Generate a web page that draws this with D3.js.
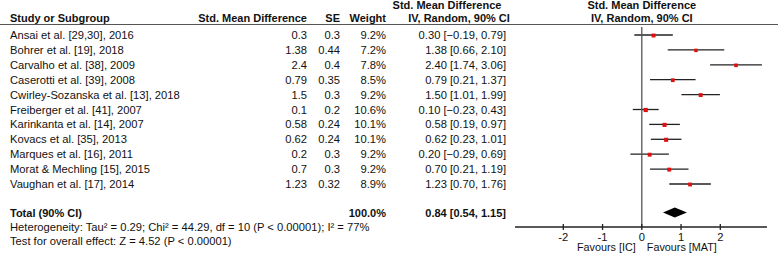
<!DOCTYPE html>
<html>
<head>
<meta charset="utf-8">
<script src="https://cdn.jsdelivr.net/npm/d3@7"></script>
<style>
  body { margin: 0; background: #fff; }
  text { font-family: "Liberation Sans", Arial, sans-serif; font-size: 11.2px; fill: #111; }
  .b { font-weight: bold; font-size: 11px; }
  .fav { font-size: 10.8px; }
</style>
</head>
<body>
<div id="chart"></div>
<script>
const studies = ["Ansai et al. [29,30], 2016", "Bohrer et al. [19], 2018", "Carvalho et al. [38], 2009",
  "Caserotti et al. [39], 2008", "Cwirley-Sozanska et al. [13], 2018", "Freiberger et al. [41], 2007",
  "Karinkanta et al. [14], 2007", "Kovacs et al. [35], 2013", "Marques et al. [16], 2011",
  "Morat & Mechling [15], 2015", "Vaughan et al. [17], 2014"];
const smd = ["0.3", "1.38", "2.4", "0.79", "1.5", "0.1", "0.58", "0.62", "0.2", "0.7", "1.23"];
const se = ["0.3", "0.44", "0.4", "0.35", "0.3", "0.2", "0.24", "0.24", "0.3", "0.3", "0.32"];
const weight = [9.2, 7.2, 7.8, 8.5, 9.2, 10.6, 10.1, 10.1, 9.2, 9.2, 8.9];
const est = [0.30, 1.38, 2.40, 0.79, 1.50, 0.10, 0.58, 0.62, 0.20, 0.70, 1.23];
const lo = [-0.19, 0.66, 1.74, 0.21, 1.01, -0.23, 0.19, 0.23, -0.29, 0.21, 0.70];
const hi = [0.79, 2.10, 3.06, 1.37, 1.99, 0.43, 0.97, 1.01, 0.69, 1.19, 1.76];
const total = { est: 0.84, lo: 0.54, hi: 1.15, weight: "100.0%" };
const ticks = [-2, -1, 0, 1, 2];

const width = 778, height = 257;
const svg = d3.select("#chart").append("svg")
  .attr("width", width).attr("height", height);

const fmt = d3.format(".2f");
const x = d3.scaleLinear().domain([-2, 2]).range([563.3, 720.3]);
const y = d3.scaleLinear().domain([0, 10]).range([35, 184]);
const yTotal = 212.5, yAxis = 227;

// header
svg.append("line").attr("x1", 0).attr("x2", width).attr("y1", 24.5).attr("y2", 24.5)
  .attr("stroke", "#555").attr("stroke-width", 1.2);
svg.append("text").attr("class", "b").attr("x", 10).attr("y", 22).text("Study or Subgroup");
svg.append("text").attr("class", "b").attr("x", 307).attr("y", 22).attr("text-anchor", "end").text("Std. Mean Difference");
svg.append("text").attr("class", "b").attr("x", 340).attr("y", 22).attr("text-anchor", "end").text("SE");
svg.append("text").attr("class", "b").attr("x", 386).attr("y", 22).attr("text-anchor", "end").text("Weight");
svg.append("text").attr("class", "b").attr("x", 447).attr("y", 9).attr("text-anchor", "middle").text("Std. Mean Difference");
svg.append("text").attr("class", "b").attr("x", 459).attr("y", 22).attr("text-anchor", "middle").text("IV, Random, 90% CI");
svg.append("text").attr("class", "b").attr("x", x(0)).attr("y", 9).attr("text-anchor", "middle").text("Std. Mean Difference");
svg.append("text").attr("class", "b").attr("x", x(0)).attr("y", 22).attr("text-anchor", "middle").text("IV, Random, 90% CI");

// study rows
const rows = svg.selectAll("g.row").data(studies).enter().append("g")
  .attr("class", "row")
  .attr("transform", (d, i) => `translate(0,${y(i)})`);
rows.append("text").attr("x", 10).attr("y", 4).text(d => d);
rows.append("text").attr("x", 307).attr("y", 4).attr("text-anchor", "end").text((d, i) => smd[i]);
rows.append("text").attr("x", 340).attr("y", 4).attr("text-anchor", "end").text((d, i) => se[i]);
rows.append("text").attr("x", 386).attr("y", 4).attr("text-anchor", "end").text((d, i) => weight[i].toFixed(1) + "%");
rows.append("text").attr("x", 506).attr("y", 4).attr("text-anchor", "end")
  .text((d, i) => `${fmt(est[i])} [${fmt(lo[i])}, ${fmt(hi[i])}]`);

// zero line
svg.append("line").attr("x1", x(0)).attr("x2", x(0)).attr("y1", 27).attr("y2", yAxis)
  .attr("stroke", "#555").attr("stroke-width", 1.3);

// CI lines and markers
rows.append("line")
  .attr("x1", (d, i) => x(lo[i])).attr("x2", (d, i) => x(hi[i]))
  .attr("y1", 0).attr("y2", 0)
  .attr("stroke", "#222").attr("stroke-width", 1.3);
const size = d3.scaleSqrt().domain([0, 10.6]).range([0, 4.2]);
rows.append("rect")
  .attr("x", (d, i) => x(est[i]) - size(weight[i]) / 2)
  .attr("y", (d, i) => -size(weight[i]) / 2 + 0.5)
  .attr("width", (d, i) => size(weight[i]))
  .attr("height", (d, i) => size(weight[i]))
  .attr("fill", "#e01010");

// total
svg.append("text").attr("class", "b").attr("x", 10).attr("y", yTotal + 4).text("Total (90% CI)");
svg.append("text").attr("class", "b").attr("x", 386).attr("y", yTotal + 4).attr("text-anchor", "end").text(total.weight);
svg.append("text").attr("class", "b").attr("x", 506).attr("y", yTotal + 4).attr("text-anchor", "end")
  .text(`${fmt(total.est)} [${fmt(total.lo)}, ${fmt(total.hi)}]`);
svg.append("path")
  .attr("d", `M${x(total.lo)},${yTotal} L${x(total.est)},${yTotal - 5} L${x(total.hi)},${yTotal} L${x(total.est)},${yTotal + 5} Z`)
  .attr("fill", "#000");

svg.append("text").attr("x", 10).attr("y", yAxis + 4).text("Heterogeneity: Tau² = 0.29; Chi² = 44.29, df = 10 (P < 0.00001); I² = 77%");
svg.append("text").attr("x", 10).attr("y", yAxis + 18).text("Test for overall effect: Z = 4.52 (P < 0.00001)");

// axis
svg.append("line").attr("x1", 515).attr("x2", 767).attr("y1", yAxis).attr("y2", yAxis)
  .attr("stroke", "#222").attr("stroke-width", 1.3);
const tg = svg.selectAll("g.tick").data(ticks).enter().append("g")
  .attr("class", "tick").attr("transform", d => `translate(${x(d)},${yAxis})`);
tg.append("line").attr("y1", -3).attr("y2", 3).attr("stroke", "#222").attr("stroke-width", 1.3);
tg.append("text").attr("y", 13.5).attr("text-anchor", "middle").text(d => d);
svg.append("text").attr("class", "fav").attr("x", x(0) - 6).attr("y", yAxis + 24).attr("text-anchor", "end").text("Favours [IC]");
svg.append("text").attr("class", "fav").attr("x", x(0) + 5).attr("y", yAxis + 24).text("Favours [MAT]");
</script>
</body>
</html>
